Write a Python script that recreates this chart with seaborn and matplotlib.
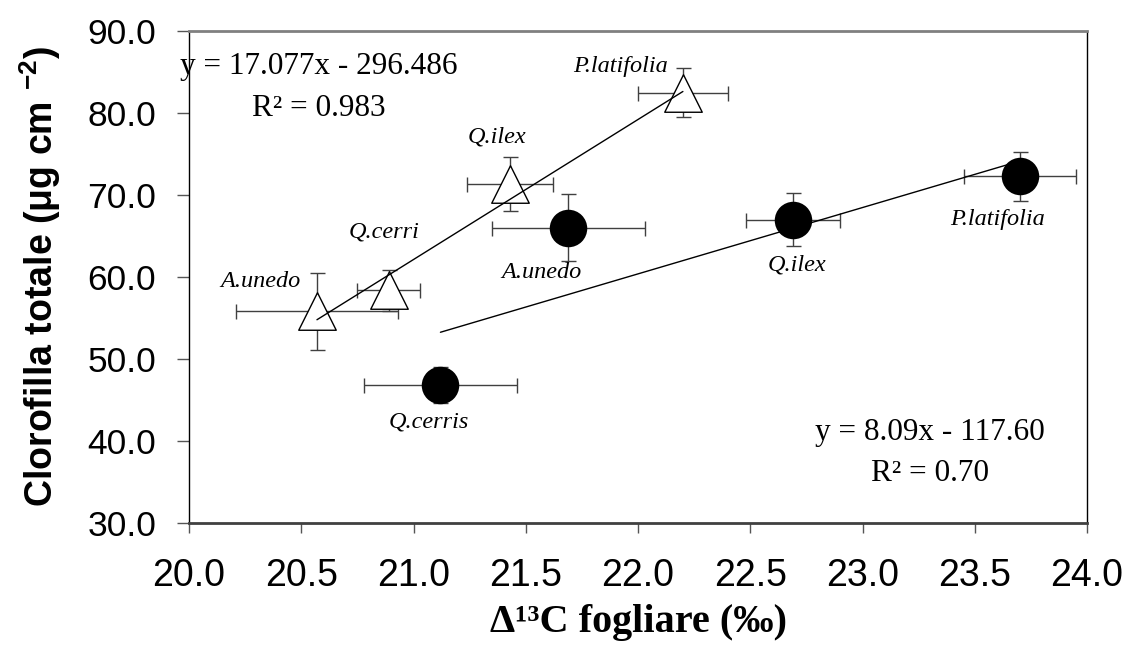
import numpy as np
import pandas as pd
import matplotlib
matplotlib.use('Agg')
import matplotlib.pyplot as plt
import seaborn as sns

# open triangles
tri_species = ['A.unedo', 'Q.cerri', 'Q.ilex', 'P.latifolia']
tri_x = [20.57, 20.89, 21.43, 22.20]
tri_y = [55.8, 58.4, 71.3, 82.5]
tri_xerr = [0.36, 0.14, 0.19, 0.20]
tri_yerr = [4.7, 2.5, 3.3, 3.0]
tri_lab_x = [20.32, 20.87, 21.37, 21.92]
tri_lab_y = [59.5, 65.5, 77.1, 85.7]
tri_fit = (17.077, -296.486)
tri_eq = ['y = 17.077x - 296.486', 'R² = 0.983']

# filled circles
circ_species = ['Q.cerris', 'A.unedo', 'Q.ilex', 'P.latifolia']
circ_x = [21.12, 21.69, 22.69, 23.70]
circ_y = [46.8, 66.0, 67.0, 72.3]
circ_xerr = [0.34, 0.34, 0.21, 0.25]
circ_yerr = [2.2, 4.1, 3.2, 3.0]
circ_lab_x = [21.07, 21.57, 22.71, 23.60]
circ_lab_y = [42.3, 60.5, 61.5, 67.0]
circ_fit = (8.09, -117.60)
circ_eq = ['y = 8.09x - 117.60', 'R² = 0.70']

x_ticks = np.arange(20.0, 24.01, 0.5)
y_ticks = np.arange(30.0, 90.01, 10.0)

sns.set_theme(style='white')
plt.rcParams['font.family'] = ['Liberation Sans', 'DejaVu Sans']
plt.rcParams['mathtext.fontset'] = 'custom'
plt.rcParams['mathtext.sf'] = 'Liberation Sans:bold'
plt.rcParams['mathtext.rm'] = 'Liberation Sans'
serif = ['Liberation Serif', 'DejaVu Serif']

fig = plt.figure(figsize=(11.23, 6.45), dpi=100)
ax = fig.add_axes([189 / 1123, 122 / 645, 898 / 1123, 492 / 645])

tri = pd.DataFrame({'x': tri_x, 'y': tri_y})
circ = pd.DataFrame({'x': circ_x, 'y': circ_y})

# error bars under the markers
for d, xe, ye in [(tri, tri_xerr, tri_yerr), (circ, circ_xerr, circ_yerr)]:
    ax.errorbar(d['x'], d['y'], xerr=xe, yerr=ye, fmt='none', ecolor='#404040',
                elinewidth=1, capsize=5.4, capthick=1, zorder=1)

sns.scatterplot(data=tri, x='x', y='y', marker='^', s=27 ** 2, color='white',
                edgecolor='black', linewidth=1, zorder=2, ax=ax)
sns.scatterplot(data=circ, x='x', y='y', marker='o', s=27 ** 2, color='black',
                edgecolor='black', linewidth=0, zorder=2, ax=ax)

# regression lines over the x range of each group
for xs, (m, q) in [(tri_x, tri_fit), (circ_x, circ_fit)]:
    fx = np.array([min(xs), max(xs)])
    sns.lineplot(x=fx, y=m * fx + q, color='black', linewidth=1, zorder=3, ax=ax)

# species names
for names, lx, ly in [(tri_species, tri_lab_x, tri_lab_y), (circ_species, circ_lab_x, circ_lab_y)]:
    for n, a, b in zip(names, lx, ly):
        ax.text(a, b, n, fontsize=17.5, style='italic', family=serif,
                ha='center', va='center', color='black')

# equations
for eq, ex, ey in [(tri_eq, 20.58, [85.7, 80.5]), (circ_eq, 23.30, [41.0, 36.0])]:
    for t, b in zip(eq, ey):
        ax.text(ex, b, t, fontsize=22.5, family=serif, ha='center', va='center', color='black')

ax.set_xlim(20, 24)
ax.set_ylim(30, 90)
ax.set_xticks(x_ticks)
ax.set_xticklabels([f'{v:.1f}' for v in x_ticks])
ax.set_yticks(y_ticks)
ax.set_yticklabels([f'{v:.1f}' for v in y_ticks])
ax.tick_params(axis='x', direction='out', length=7.5, width=1, color='#555555',
               pad=18, labelsize=27, labelcolor='black', bottom=True)
ax.tick_params(axis='y', direction='out', length=8.6, width=1, color='#555555',
               pad=15, labelsize=25.5, labelcolor='black', left=True)

for s in ['left', 'right']:
    ax.spines[s].set_color('black')
    ax.spines[s].set_linewidth(1)
ax.spines['top'].set_color('#808080')
ax.spines['top'].set_linewidth(2)
ax.spines['bottom'].set_color('#404040')
ax.spines['bottom'].set_linewidth(2)

ax.set_ylabel('Clorofilla totale (μg cm $^{\\mathsf{-2}}$)', fontsize=27,
              fontweight='bold', color='black', va='center')
ax.yaxis.set_label_coords(-0.166, 0.5)
ax.set_xlabel('Δ¹³C fogliare (‰)', fontsize=29, fontweight='bold', family=serif,
              color='black', va='center')
ax.xaxis.set_label_coords(0.5, -0.203)

fig.savefig('out.png', dpi=100)
